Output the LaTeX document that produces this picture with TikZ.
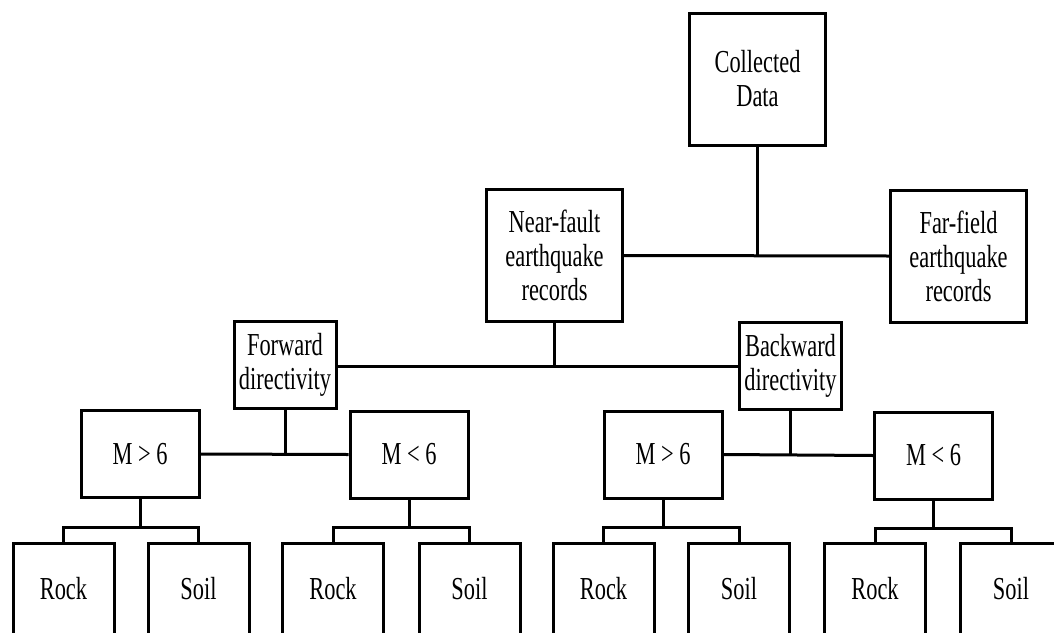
\documentclass[tikz,border=0pt]{standalone}
\usepackage{fontspec}
\setmainfont{Liberation Serif}[FakeStretch=0.70]
\usepackage{tikz}
\usetikzlibrary{positioning}

\begin{document}
\begin{tikzpicture}[x=1pt,y=-1pt,line width=3pt,
  cell/.style={draw,rectangle,inner sep=0pt,align=center,font=\fontsize{32}{34}\selectfont},
  cellbig/.style={cell,minimum width=136,minimum height=132},
  cellmid/.style={cell,minimum width=102,minimum height=87},
  cellm/.style={cell,minimum width=118,minimum height=87},
  leaf/.style={cell,minimum width=101,minimum height=92}]
\useasboundingbox (0,0) rectangle (1054,632);
% top levels
\node[cellbig] (data) at (757.5,79) {Collected\\Data};
\node[cellbig] (near) at (554.5,255.5) {Near-fault\\earthquake\\records};
\node[cellbig] (far) at (958.5,256) {Far-field\\earthquake\\records};
\node[cellmid] (fwd) at (285,364.5) {Forward\\directivity};
\node[cellmid] (bwd) at (790.5,366) {Backward\\directivity};
% magnitude
\node[cellm] (m1) at (140,454) {M > 6};
\node[cellm] (m2) at (409,454.5) {M < 6};
\node[cellm] (m3) at (663,454.5) {M > 6};
\node[cellm] (m4) at (933.5,455.5) {M < 6};
% site class
\node[leaf] (r1) at (63.5,589) {Rock};
\node[leaf] (s1) at (198.5,589) {Soil};
\node[leaf] (r2) at (333,589) {Rock};
\node[leaf] (s2) at (469.5,589) {Soil};
\node[leaf] (r3) at (603.5,589) {Rock};
\node[leaf] (s3) at (739,589) {Soil};
\node[leaf] (r4) at (875,589) {Rock};
\node[leaf] (s4) at (1011,589) {Soil};
% links
\draw (near.east) -- (far.west);
\draw (data.south) -- (data.south |- near.east);
\draw (fwd.east |- bwd.west) -- (bwd.west);
\draw (near.south) -- (near.south |- bwd.west);
\draw (m1.east) -- (m2.west);
\draw (fwd.south) -- (fwd.south |- m1.east);
\draw (m3.east) -- (m4.west);
\draw (bwd.south) -- (bwd.south |- m3.east);
\draw (m1.south) -- ++(0,28) coordinate (j1);
\draw (r1.north) |- (j1) -| (s1.north);
\draw (m2.south) -- ++(0,28) coordinate (j2);
\draw (r2.north) |- (j2) -| (s2.north);
\draw (m3.south) -- ++(0,28) coordinate (j3);
\draw (r3.north) |- (j3) -| (s3.north);
\draw (m4.south) -- ++(0,28) coordinate (j4);
\draw (r4.north) |- (j4) -| (s4.north);
\end{tikzpicture}
\end{document}
